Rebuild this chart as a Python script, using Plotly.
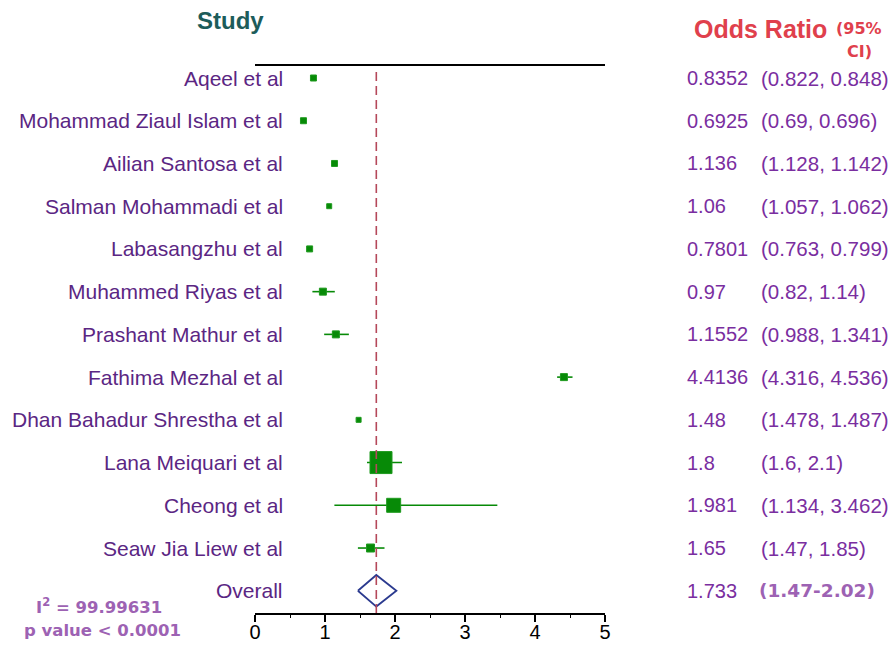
import plotly.graph_objects as go

# ---- study data -------------------------------------------------------------
studies = [
    "Aqeel et al", "Mohammad Ziaul Islam et al", "Ailian Santosa et al",
    "Salman Mohammadi et al", "Labasangzhu et al", "Muhammed Riyas et al",
    "Prashant Mathur et al", "Fathima Mezhal et al", "Dhan Bahadur Shrestha et al",
    "Lana Meiquari et al", "Cheong et al", "Seaw Jia Liew et al",
]
odds_ratio = [0.8352, 0.6925, 1.136, 1.06, 0.7801, 0.97, 1.1552, 4.4136, 1.48, 1.8, 1.981, 1.65]
ci_low = [0.822, 0.69, 1.128, 1.057, 0.763, 0.82, 0.988, 4.316, 1.478, 1.6, 1.134, 1.47]
ci_high = [0.848, 0.696, 1.142, 1.062, 0.799, 1.14, 1.341, 4.536, 1.487, 2.1, 3.462, 1.85]
or_labels = ["0.8352", "0.6925", "1.136", "1.06", "0.7801", "0.97", "1.1552", "4.4136",
             "1.48", "1.8", "1.981", "1.65"]
ci_labels = ["(0.822, 0.848)", "(0.69, 0.696)", "(1.128, 1.142)", "(1.057, 1.062)",
             "(0.763, 0.799)", "(0.82, 1.14)", "(0.988, 1.341)", "(4.316, 4.536)",
             "(1.478, 1.487)", "(1.6, 2.1)", "(1.134, 3.462)", "(1.47, 1.85)"]

overall_label = "Overall"
overall_or = 1.733
overall_low = 1.47
overall_high = 2.02
overall_or_label = "1.733"
overall_ci_label = "(1.47-2.02)"
heterogeneity_i2 = "99.99631"
p_value_text = "p value < 0.0001"

x_ticks = [0, 1, 2, 3, 4, 5]

# marker box sizes in px (study weight)
box_px = [6, 6, 6, 5, 6, 7, 7, 7, 5, 22, 14, 8]

# ---- layout geometry --------------------------------------------------------
W, H = 893, 648
PL, PR, PT, PB = 255, 605, 66, 613          # plot area in page pixels
ROW0, ROWSTEP = 78.0, 42.73                 # row centre of first study / spacing
y_top = -(ROW0 - PT) / ROWSTEP
y_bot = (PB - ROW0) / ROWSTEP


def px_x(px):
    return (px - PL) / (PR - PL)


def px_y(py):
    return (PB - py) / (PB - PT)


GREEN = "#078a07"
LABEL = "#5b2683"
VALUE = "#7a2ea0"
MAUVE = "#9d62b3"
SANS = "Liberation Sans, Arial, sans-serif"
WIDE = "DejaVu Sans, sans-serif"

rows = list(range(len(studies)))
overall_row = len(studies)

fig = go.Figure()

# study estimates with confidence intervals
fig.add_trace(go.Scatter(
    x=odds_ratio, y=rows, mode="markers",
    marker=dict(symbol="square", size=box_px, color=GREEN, opacity=1,
                line=dict(color="#1f9a1f", width=1)),
    error_x=dict(type="data", symmetric=False,
                 array=[h - o for h, o in zip(ci_high, odds_ratio)],
                 arrayminus=[o - l for o, l in zip(odds_ratio, ci_low)],
                 color=GREEN, thickness=1.6, width=0),
    hoverinfo="skip", showlegend=False,
))

# pooled estimate diamond
fig.add_trace(go.Scatter(
    x=[overall_low, overall_or, overall_high, overall_or, overall_low],
    y=[overall_row, overall_row - 0.37, overall_row, overall_row + 0.37, overall_row],
    mode="lines", fill="toself", fillcolor="white",
    line=dict(color="#2b3a8f", width=1.8),
    hoverinfo="skip", showlegend=False,
))

# dashed reference line at pooled estimate
fig.add_shape(type="line", xref="x", yref="paper",
              x0=overall_or, x1=overall_or, y0=0, y1=px_y(PT + 6),
              line=dict(color="#b5485a", width=1.6, dash="9px,5px"), layer="above")

annotations = []

# study names and numeric columns
all_names = studies + [overall_label]
all_or = or_labels + [overall_or_label]
for i, name in enumerate(all_names):
    annotations.append(dict(x=px_x(285), y=i, xref="paper", yref="y", text=name,
                            xanchor="right", yanchor="middle", showarrow=False,
                            font=dict(family=SANS, size=21, color=LABEL)))
    annotations.append(dict(x=px_x(685), y=i, xref="paper", yref="y", text=all_or[i],
                            xanchor="left", yanchor="middle", showarrow=False,
                            font=dict(family=SANS, size=20, color=VALUE)))
for i, ci in enumerate(ci_labels):
    annotations.append(dict(x=px_x(759), y=i, xref="paper", yref="y", text=ci,
                            xanchor="left", yanchor="middle", showarrow=False,
                            font=dict(family=SANS, size=20.5, color=VALUE)))
annotations.append(dict(x=px_x(757), y=overall_row, xref="paper", yref="y",
                        text=overall_ci_label, xanchor="left", yanchor="middle",
                        showarrow=False,
                        font=dict(family=WIDE, size=18.5, color=MAUVE, weight="bold")))

# column headers
annotations += [
    dict(x=px_x(230), y=px_y(21), xref="paper", yref="paper", text="Study",
         xanchor="center", yanchor="middle", showarrow=False,
         font=dict(family=SANS, size=24, color="#1d5c5a", weight="bold")),
    dict(x=px_x(692), y=px_y(29), xref="paper", yref="paper", text="Odds Ratio",
         xanchor="left", yanchor="middle", showarrow=False,
         font=dict(family=SANS, size=25, color="#e0404c", weight="bold")),
    dict(x=px_x(834), y=px_y(28), xref="paper", yref="paper", text="(95%",
         xanchor="left", yanchor="middle", showarrow=False,
         font=dict(family=WIDE, size=16, color="#e0404c", weight="bold")),
    dict(x=px_x(874), y=px_y(51), xref="paper", yref="paper", text="CI)",
         xanchor="right", yanchor="middle", showarrow=False,
         font=dict(family=WIDE, size=16, color="#e0404c", weight="bold")),
]

# heterogeneity statistics
annotations += [
    dict(x=px_x(99), y=px_y(606), xref="paper", yref="paper",
         text=f"I<sup>2</sup> = {heterogeneity_i2}",
         xanchor="center", yanchor="middle", showarrow=False,
         font=dict(family=WIDE, size=16.5, color=MAUVE, weight="bold")),
    dict(x=px_x(102), y=px_y(630), xref="paper", yref="paper", text=p_value_text,
         xanchor="center", yanchor="middle", showarrow=False,
         font=dict(family=WIDE, size=16.5, color=MAUVE, weight="bold")),
]

fig.update_layout(
    width=W, height=H,
    margin=dict(l=PL, r=W - PR, t=PT, b=H - PB, pad=0),
    plot_bgcolor="white", paper_bgcolor="white",
    annotations=annotations,
    xaxis=dict(range=[0, 5], tickvals=x_ticks, ticktext=[str(t) for t in x_ticks],
               showgrid=False, zeroline=False, showline=True, linecolor="black",
               linewidth=1.6, mirror=True, ticks="outside", ticklen=7, tickwidth=1.5,
               tickcolor="black", automargin=False, ticklabelstandoff=-7,
               minor=dict(dtick=0.5, tick0=0, ticks="outside", ticklen=3,
                          tickwidth=1.2, tickcolor="black", showgrid=False),
               tickfont=dict(family=SANS, size=20, color="black"),
               fixedrange=True),
    yaxis=dict(range=[y_bot, y_top], visible=False, fixedrange=True),
)

fig.write_html("out.html")
